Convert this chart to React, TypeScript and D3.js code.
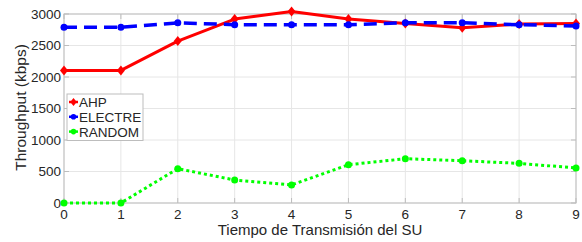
import * as d3 from "d3";

const STEPS = [0, 1, 2, 3, 4, 5, 6, 7, 8, 9];
const AHP = [2105, 2105, 2570, 2920, 3040, 2920, 2850, 2780, 2840, 2850];
const ELECTRE = [2790, 2790, 2860, 2830, 2830, 2830, 2860, 2860, 2830, 2810];
const RANDOM = [0, 0, 545, 365, 286, 608, 703, 671, 629, 556];
const Y_TICKS = [0, 500, 1000, 1500, 2000, 2500, 3000];

const SERIES = [
  { name: "AHP", values: AHP, color: "#ff0000", dash: "", width: 3, marker: "diamond" },
  { name: "ELECTRE", values: ELECTRE, color: "#0000ff", dash: "13 7", width: 3.5, marker: "circle" },
  { name: "RANDOM", values: RANDOM, color: "#00ff00", dash: "3 3", width: 3, marker: "circle" },
];

const W = 582;
const H = 242;
const M = { left: 64, right: 6, top: 14, bottom: 39 };
const FONT = "Liberation Sans, Arial, sans-serif";

const Marker = ({ x, y, kind, color, s = 1 }: { x: number; y: number; kind: string; color: string; s?: number }) =>
  kind === "diamond" ? (
    <path
      d={`M${x},${y - 5 * s}L${x + 4 * s},${y}L${x},${y + 5 * s}L${x - 4 * s},${y}Z`}
      fill={color}
    />
  ) : (
    <circle cx={x} cy={y} r={3.5 * s} fill={color} />
  );

export default function App() {
  const x = d3.scaleLinear().domain([0, 9]).range([M.left, W - M.right]);
  const y = d3.scaleLinear().domain([0, 3000]).range([H - M.bottom, M.top]);
  const line = d3
    .line<number>()
    .x((_, i) => x(STEPS[i]))
    .y((d) => y(d));

  const grid = "#e6e6e6";
  const axis = "#bdbdbd";

  return (
    <svg
      width={W}
      height={H}
      style={{ position: "absolute", left: 0, top: 0, background: "#fff" }}
      fontFamily={FONT}
    >
      {/* grid */}
      {STEPS.map((s) => (
        <line key={"gx" + s} x1={x(s)} x2={x(s)} y1={y(0)} y2={y(3000)} stroke={grid} />
      ))}
      {Y_TICKS.map((t) => (
        <line key={"gy" + t} x1={x(0)} x2={x(9)} y1={y(t)} y2={y(t)} stroke={grid} />
      ))}
      {/* box */}
      <rect
        x={x(0)}
        y={y(3000)}
        width={x(9) - x(0)}
        height={y(0) - y(3000)}
        fill="none"
        stroke={axis}
      />
      {/* ticks */}
      {STEPS.map((s) => (
        <g key={"tx" + s}>
          <line x1={x(s)} x2={x(s)} y1={y(0)} y2={y(0) - 5} stroke={axis} />
          <line x1={x(s)} x2={x(s)} y1={y(3000)} y2={y(3000) + 5} stroke={axis} />
          <text x={x(s)} y={y(0) + 16} textAnchor="middle" fontSize={13.5} fill="#262626">
            {s}
          </text>
        </g>
      ))}
      {Y_TICKS.map((t) => (
        <g key={"ty" + t}>
          <line x1={x(0)} x2={x(0) + 5} y1={y(t)} y2={y(t)} stroke={axis} />
          <line x1={x(9)} x2={x(9) - 5} y1={y(t)} y2={y(t)} stroke={axis} />
          <text x={x(0) - 3} y={y(t) + 4.5} textAnchor="end" fontSize={13.5} fill="#262626">
            {t}
          </text>
        </g>
      ))}
      {/* series */}
      {SERIES.map((s) => (
        <g key={s.name}>
          <path
            d={line(s.values) ?? ""}
            fill="none"
            stroke={s.color}
            strokeWidth={s.width}
            strokeDasharray={s.dash}
            strokeLinejoin="round"
          />
          {s.values.map((v, i) => (
            <Marker key={i} x={x(STEPS[i])} y={y(v)} kind={s.marker} color={s.color} />
          ))}
        </g>
      ))}
      {/* legend */}
      <g>
        <rect x={67} y={94} width={76} height={46.5} fill="#fff" stroke={axis} />
        {SERIES.map((s, i) => {
          const ly = 102 + i * 14.8;
          return (
            <g key={"lg" + s.name}>
              <line x1={69} x2={78} y1={ly} y2={ly} stroke={s.color} strokeWidth={2.5} />
              <Marker x={73.5} y={ly} kind={s.marker} color={s.color} s={0.8} />
              <text x={79} y={ly + 5} fontSize={13.5} fill="#262626">
                {s.name}
              </text>
            </g>
          );
        })}
      </g>
      {/* labels */}
      <text x={(x(0) + x(9)) / 2} y={235} textAnchor="middle" fontSize={15} fill="#262626">
        Tiempo de Transmisión del SU
      </text>
      <text
        transform={`translate(26,${(y(0) + y(3000)) / 2 - 1}) rotate(-90)`}
        textAnchor="middle"
        fontSize={15.5}
        fill="#262626"
      >
        Throughput (kbps)
      </text>
    </svg>
  );
}
